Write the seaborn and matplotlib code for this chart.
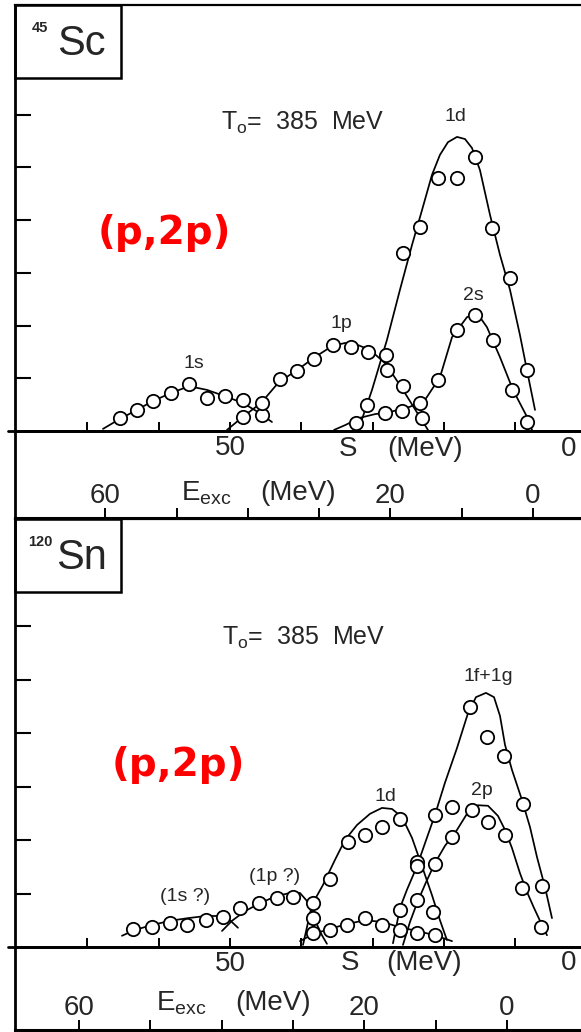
import numpy as np
import pandas as pd
import matplotlib
matplotlib.use("Agg")
import matplotlib.pyplot as plt
import seaborn as sns
from matplotlib.patches import Rectangle

sns.set_theme(style="white")
plt.rcParams["font.family"] = ["Liberation Sans", "DejaVu Sans"]
plt.rcParams["mathtext.fontset"] = "custom"
plt.rcParams["mathtext.rm"] = "Liberation Sans"
plt.rcParams["mathtext.it"] = "Liberation Sans"

# ---------------- 45Sc : data points (S in MeV, yield in tick units) -------------
sc_1s_S = [65.43, 63.09, 60.76, 58.32, 55.71, 53.27, 50.70, 48.13, 45.55]
sc_1s_y = [0.24, 0.40, 0.57, 0.73, 0.89, 0.63, 0.67, 0.59, 0.30]
sc_1p_S = [48.18, 45.55, 43.04, 40.60, 38.22, 35.62, 33.03, 30.58, 28.02, 25.69, 23.11]
sc_1p_y = [0.27, 0.53, 0.99, 1.13, 1.37, 1.63, 1.59, 1.49, 1.16, 0.85, 0.25]
sc_1d_S = [30.83, 28.12, 25.69, 23.35, 20.79, 18.20, 15.64, 13.30, 10.73, 8.39]
sc_1d_y = [0.49, 1.44, 3.37, 3.88, 4.80, 4.80, 5.20, 3.85, 2.90, 1.16]
sc_2s_S = [32.33, 28.26, 25.92, 23.35, 20.79, 18.20, 15.64, 13.07, 10.49, 8.39]
sc_2s_y = [0.15, 0.34, 0.37, 0.53, 0.97, 1.92, 2.20, 1.73, 0.78, 0.18]

# 45Sc : hand-drawn curves
sc_c1s_S = [67.81, 65.43, 63.04, 60.80, 58.27, 55.75, 53.23, 50.70, 48.18, 46.07, 44.11]
sc_c1s_y = [0.04, 0.23, 0.40, 0.57, 0.72, 0.85, 0.78, 0.66, 0.53, 0.36, 0.17]
sc_c1p_S = [50.42, 48.18, 45.65, 43.13, 40.74, 38.22, 35.69, 33.87, 32.05, 30.36, 28.12, 25.74, 23.63, 22.23]
sc_c1p_y = [0.02, 0.27, 0.53, 0.93, 1.14, 1.39, 1.61, 1.67, 1.63, 1.54, 1.27, 0.78, 0.32, 0.02]
sc_c1d_S = [32.05, 30.08, 27.98, 26.16, 24.47, 23.07, 21.67, 20.55, 19.43, 18.16, 17.04, 16.06, 14.94,
            13.53, 12.13, 10.73, 9.33, 8.21, 7.22]
sc_c1d_y = [0.0, 0.78, 1.73, 2.68, 3.53, 4.19, 4.86, 5.24, 5.48, 5.58, 5.54, 5.37, 4.95,
            4.10, 3.34, 2.68, 1.82, 1.06, 0.40]
sc_c2s_S = [35.41, 33.87, 31.77, 29.66, 27.56, 24.75, 22.65, 20.55, 18.86, 16.76, 15.36, 13.96,
            12.13, 10.31, 8.35, 7.64]
sc_c2s_y = [0.02, 0.11, 0.25, 0.32, 0.36, 0.46, 0.59, 1.02, 1.78, 2.16, 2.24, 1.97,
            1.40, 0.78, 0.27, 0.02]

# ---------------- 120Sn : data points -------------
sn_1s_S = [63.56, 60.98, 58.42, 55.99, 53.37, 51.02]
sn_1s_y = [0.33, 0.37, 0.44, 0.41, 0.50, 0.56]
sn_1p_S = [48.60, 45.89, 43.45, 41.12, 38.36]
sn_1p_y = [0.72, 0.82, 0.92, 0.94, 0.54]
sn_1d_S = [38.36, 35.97, 33.41, 31.07, 28.72, 26.16, 23.81, 21.49]
sn_1d_y = [0.82, 1.28, 1.97, 2.09, 2.25, 2.39, 1.59, 0.66]
sn_low_S = [38.36, 35.97, 33.63, 31.07, 28.72, 26.16, 23.81, 21.25]
sn_low_y = [0.26, 0.32, 0.41, 0.54, 0.41, 0.32, 0.26, 0.22]
sn_1fg_S = [26.16, 23.81, 21.25, 18.86, 16.34, 13.91, 11.57, 8.86, 6.28]
sn_1fg_y = [0.69, 1.51, 2.47, 2.62, 4.49, 3.92, 3.57, 2.67, 1.14]
sn_2p_S = [23.81, 21.25, 18.91, 16.10, 13.77, 11.43, 9.09, 6.38]
sn_2p_y = [0.88, 1.56, 2.06, 2.56, 2.34, 2.09, 1.10, 0.38]

# 120Sn : hand-drawn curves
sn_c1s_S = [65.15, 63.32, 60.94, 58.42, 55.89, 53.37, 51.40, 50.00, 48.88]
sn_c1s_y = [0.21, 0.32, 0.41, 0.49, 0.54, 0.58, 0.58, 0.50, 0.36]
sn_c1p_S = [51.12, 49.72, 47.90, 45.79, 43.55, 41.58, 40.18, 39.20, 38.08, 37.10, 36.40]
sn_c1p_y = [0.30, 0.49, 0.67, 0.82, 0.95, 1.01, 1.01, 0.86, 0.50, 0.22, 0.06]
sn_c1d_S = [39.76, 38.50, 36.96, 35.27, 33.87, 32.19, 30.36, 28.68, 27.27, 25.88, 24.47, 23.07,
            21.67, 20.55, 19.57]
sn_c1d_y = [0.04, 0.79, 1.16, 1.63, 2.00, 2.28, 2.49, 2.60, 2.58, 2.43, 2.04, 1.51,
            0.97, 0.50, 0.13]
sn_clow_S = [40.18, 38.36, 35.97, 33.59, 31.07, 28.68, 26.16, 23.77, 21.25, 18.86]
sn_clow_y = [0.11, 0.24, 0.34, 0.43, 0.50, 0.47, 0.37, 0.30, 0.22, 0.11]
sn_c1fg_S = [27.14, 26.16, 25.18, 23.77, 22.65, 21.25, 19.85, 18.16, 16.62, 15.50, 14.10, 12.97,
             12.13, 11.43, 10.45, 9.05, 7.92, 6.94, 5.82, 4.84]
sn_c1fg_y = [0.07, 0.73, 1.07, 1.51, 1.94, 2.47, 3.07, 3.72, 4.37, 4.67, 4.75, 4.67,
             4.32, 3.78, 3.31, 2.75, 2.24, 1.68, 1.12, 0.54]
sn_c2p_S = [25.74, 24.75, 23.77, 22.51, 21.25, 19.85, 18.16, 16.62, 15.22, 13.81, 12.41, 11.43,
            10.45, 9.33, 8.35, 7.36, 6.38, 5.54]
sn_c2p_y = [0.04, 0.47, 0.82, 1.21, 1.57, 1.89, 2.19, 2.52, 2.65, 2.64, 2.45, 2.19,
            1.85, 1.38, 1.03, 0.73, 0.45, 0.22]

S_ticks = [70, 60, 50, 40, 30, 20, 10]
S_ticklabels = ["", "", "50", "", "", "", ""]
E_ticks = [60, 50, 40, 30, 20, 10, 0]
E_ticklabels = ["60", "", "", "", "20", "", "0"]
Y_ticks = [1, 2, 3, 4, 5, 6]

W, H = 581, 1032
fig = plt.figure(figsize=(W / 100, H / 100), dpi=100)
fig.patch.set_facecolor("white")
ax1 = fig.add_axes([15 / W, 1 - 518 / H, 566 / W, 513 / H])
ax2 = fig.add_axes([15 / W, 2 / H, 566 / W, 511 / H])

XLIM = (80.15, 0.77)


def draw_panel(ax, points, curves, labels, ylim, e_off, nucl, mass, box_top_frac,
               tlabel_xy, p2p_xy, srow_y, erow_y, s_pos, e_pos):
    ax.set_facecolor("white")
    for (cs, cy) in curves:
        df = pd.DataFrame({"S": cs, "Y": cy})
        sns.lineplot(data=df, x="S", y="Y", ax=ax, sort=False, estimator=None,
                     color="black", lw=1.25, zorder=2)
    for (ps, py) in points:
        df = pd.DataFrame({"S": ps, "Y": py})
        sns.scatterplot(data=df, x="S", y="Y", ax=ax, marker="o", s=92,
                        facecolor="white", edgecolor="black", linewidth=1.3, zorder=3)
    ax.set_xlim(*XLIM)
    ax.set_ylim(*ylim)
    ax.set_xlabel("")
    ax.set_ylabel("")

    # S axis on the zero line
    ax.spines["bottom"].set_position(("data", 0))
    ax.spines["bottom"].set_linewidth(2.0)
    ax.spines["bottom"].set_color("black")
    ax.axhline(0, xmin=-0.013, xmax=1, color="black", lw=2.0, clip_on=False, zorder=1)
    ax.set_xticks(S_ticks)
    ax.set_xticklabels(S_ticklabels)
    ax.tick_params(axis="x", direction="in", length=6.5, width=1.4, color="black",
                   labelsize=20, pad=3, bottom=True)
    ax.set_yticks(Y_ticks)
    ax.set_yticklabels([])
    ax.tick_params(axis="y", direction="in", length=11.5, width=1.5, color="black", left=True)
    ax.spines["left"].set_linewidth(2.0)
    ax.spines["left"].set_color("black")
    ax.spines["top"].set_linewidth(1.6)
    ax.spines["top"].set_color("black")
    ax.spines["right"].set_visible(False)
    ax.grid(False)

    # excitation energy axis at the bottom of the panel
    sec = ax.secondary_xaxis(0.0, functions=(lambda s, o=e_off: s - o, lambda e, o=e_off: e + o))
    sec.set_xticks(E_ticks)
    sec.set_xticklabels(E_ticklabels)
    sec.tick_params(axis="x", direction="in", length=7, width=1.4, color="black",
                    labelsize=20, pad=-25)
    sec.spines["bottom"].set_linewidth(2.2)
    sec.spines["bottom"].set_color("black")

    # text in the axis rows
    ax.text(s_pos[0], srow_y, "S", fontsize=20, ha="center", va="center")
    ax.text(s_pos[1], srow_y, "(MeV)", fontsize=20, ha="center", va="center")
    ax.text(2.45, srow_y, "0", fontsize=20, ha="center", va="center")
    ax.text(e_pos[0], erow_y, r"E$_{\mathrm{exc}}$", fontsize=20, ha="center", va="center")
    ax.text(e_pos[1], erow_y, "(MeV)", fontsize=20, ha="center", va="center")

    # nucleus label box
    ax.add_patch(Rectangle((0, box_top_frac), 0.187, 1 - box_top_frac, transform=ax.transAxes,
                           fill=False, edgecolor="black", lw=1.8, clip_on=False, zorder=4))
    yc = (1 + box_top_frac) / 2
    ax.text(0.118, yc - 0.004, nucl, transform=ax.transAxes, fontsize=30, ha="center", va="center")
    ax.text(0.044, yc + 0.026, mass, transform=ax.transAxes, fontsize=10.5, ha="center",
            va="center", fontweight="bold")

    # annotations
    ax.text(tlabel_xy[0], tlabel_xy[1], r"T$_{\mathrm{o}}$=  385  MeV", fontsize=18,
            ha="center", va="center")
    ax.text(p2p_xy[0], p2p_xy[1], "(p,2p)", fontsize=28, fontweight="bold", color="#ff0000",
            ha="center", va="center", family="DejaVu Sans")
    for (lx, ly, lt) in labels:
        ax.text(lx, ly, lt, fontsize=14, ha="center", va="center")


draw_panel(
    ax1,
    points=[(sc_1s_S, sc_1s_y), (sc_1p_S, sc_1p_y), (sc_1d_S, sc_1d_y), (sc_2s_S, sc_2s_y)],
    curves=[(sc_c1s_S, sc_c1s_y), (sc_c1p_S, sc_c1p_y), (sc_c1d_S, sc_c1d_y), (sc_c2s_S, sc_c2s_y)],
    labels=[(55.05, 1.29, "1s"), (34.33, 2.04, "1p"), (18.44, 5.96, "1d"), (15.88, 2.58, "2s")],
    ylim=(-1.651, 8.083), e_off=7.5, nucl="Sc", mass="45", box_top_frac=1 - 73 / 513,
    tlabel_xy=(39.76, 5.84), p2p_xy=(59.2, 3.75), srow_y=-0.34, erow_y=-1.18,
    s_pos=(33.45, 22.65), e_pos=(53.37, 40.46),
)
draw_panel(
    ax2,
    points=[(sn_1s_S, sn_1s_y), (sn_1p_S, sn_1p_y), (sn_1d_S, sn_1d_y), (sn_low_S, sn_low_y),
            (sn_1fg_S, sn_1fg_y), (sn_2p_S, sn_2p_y)],
    curves=[(sn_c1s_S, sn_c1s_y), (sn_c1p_S, sn_c1p_y), (sn_c1d_S, sn_c1d_y),
            (sn_clow_S, sn_clow_y), (sn_c1fg_S, sn_c1fg_y), (sn_c2p_S, sn_c2p_y)],
    labels=[(56.31, 0.94, "(1s ?)"), (43.69, 1.31, "(1p ?)"), (28.26, 2.81, "1d"),
            (13.77, 5.05, "1f+1g"), (14.70, 2.93, "2p")],
    ylim=(-1.551, 8.0), e_off=11.15, nucl="Sn", mass="120", box_top_frac=1 - 73 / 511,
    tlabel_xy=(39.6, 5.78), p2p_xy=(57.3, 3.4), srow_y=-0.30, erow_y=-1.05,
    s_pos=(33.17, 22.79), e_pos=(56.87, 44.0),
)

fig.savefig("out.png", dpi=100, facecolor="white")
